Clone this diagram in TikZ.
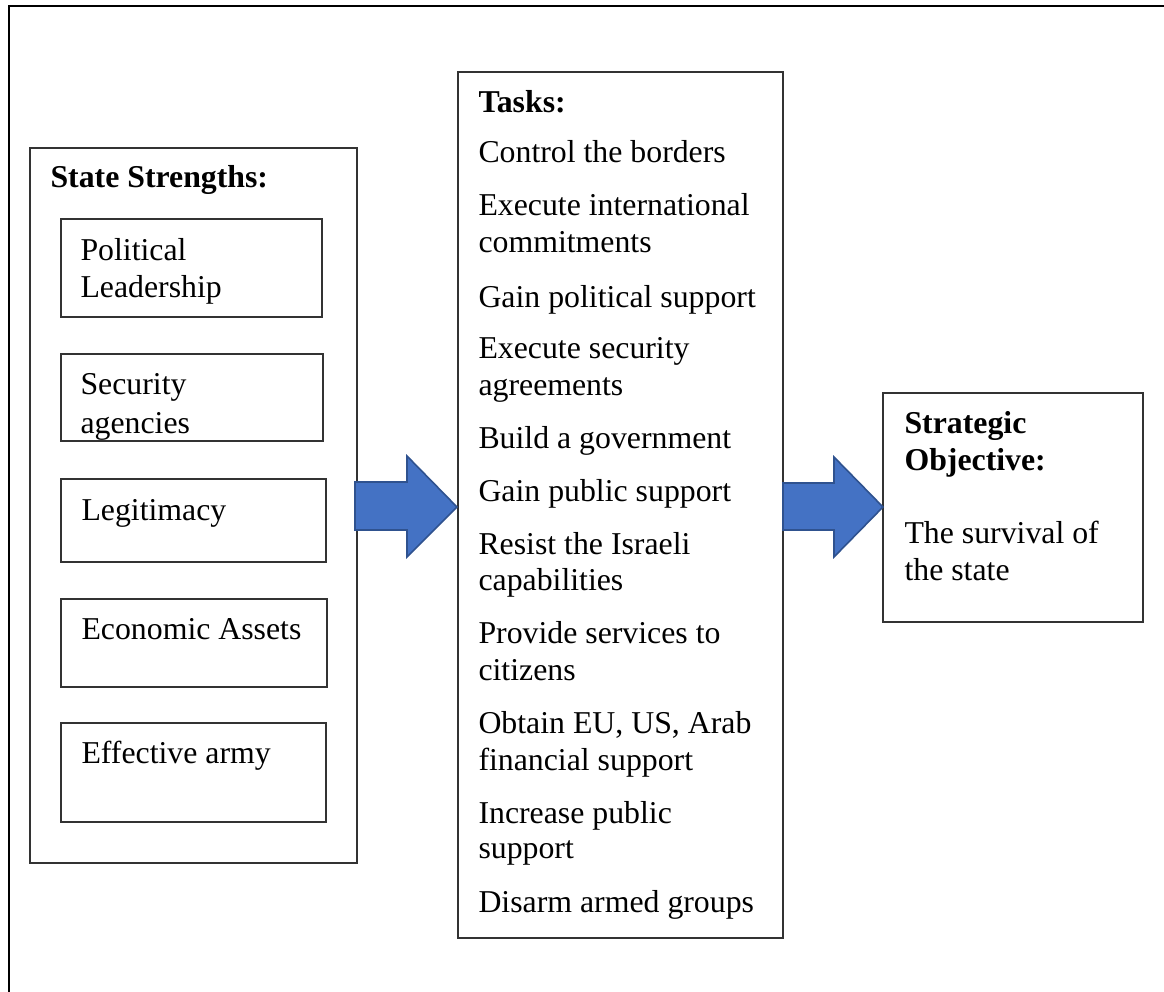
\documentclass[tikz,border=0pt]{standalone}
\usepackage{fontspec}
\setmainfont{Liberation Serif}
\definecolor{arrowblue}{HTML}{4472C4}
\definecolor{arrowedge}{HTML}{2F528F}
\newcommand\mybox[5]{\node[box, minimum width={(#4-#2)*0.3774pt}, minimum height={(#5-#3)*0.3774pt}] (#1) at (#2,#3) {};}
\begin{document}
\begin{tikzpicture}[x=0.3774pt,y=-0.3774pt,
  box/.style={draw=black!80, line width=0.45pt, inner sep=0pt, outer sep=0pt, anchor=north west},
  txt/.style={anchor=base west, inner sep=0pt, font=\fontsize{12}{14}\selectfont},
  btxt/.style={anchor=base west, inner sep=0pt, font=\fontsize{12}{14}\selectfont\bfseries},
  blockarrow/.style={fill=arrowblue, draw=arrowedge, line width=0.6pt, line join=miter}]
\useasboundingbox (0,0) rectangle (1164,992);
% outer frame
\coordinate (fbl) at (9,992);
\coordinate (ftl) at (9,6);
\coordinate (ftr) at (1164,6);
\draw[line width=1.1pt] (fbl) -- (ftl) -- (ftr);
% boxes
\mybox{strengths}{30}{148}{357}{863}
\mybox{pol}{61}{219}{322}{317}
\mybox{sec}{61}{354}{323}{441}
\mybox{leg}{61}{479}{326}{562}
\mybox{eco}{61}{599}{327}{687}
\mybox{eff}{61}{723}{326}{822}
\mybox{tasks}{458}{72}{783}{938}
\mybox{obj}{883}{393}{1143}{622}
% left texts
\node[btxt] (sh) at (50,187) {State Strengths:};
\node[txt] (p1) at (80,260) {Political};
\node[txt] (p2) at (80,297) {Leadership};
\node[txt] (s1) at (80,394) {Security};
\begin{scope}
\clip (61,354) rectangle (323,440);
\node[txt] (s2) at (80,433) {agencies};
\end{scope}
\node[txt] (l1) at (81,520) {Legitimacy};
\node[txt] (e1) at (81,639) {Economic Assets};
\node[txt] (f1) at (81,763) {Effective army};
% tasks
\node[btxt] (th) at (478,112) {Tasks:};
\node[txt] (t1) at (478,162) {Control the borders};
\node[txt] (t2a) at (478,215) {Execute international};
\node[txt] (t2b) at (478,252) {commitments};
\node[txt] (t3) at (478,307) {Gain political support};
\node[txt] (t4a) at (478,358) {Execute security};
\node[txt] (t4b) at (478,395) {agreements};
\node[txt] (t5) at (478,448) {Build a government};
\node[txt] (t6) at (478,501) {Gain public support};
\node[txt] (t7a) at (478,554) {Resist the Israeli};
\node[txt] (t7b) at (478,590) {capabilities};
\node[txt] (t8a) at (478,643) {Provide services to};
\node[txt] (t8b) at (478,680) {citizens};
\node[txt] (t9a) at (478,733) {Obtain EU, US, Arab};
\node[txt] (t9b) at (478,770) {financial support};
\node[txt] (t10a) at (478,823) {Increase public};
\node[txt] (t10b) at (478,858) {support};
\node[txt] (t11) at (478,912) {Disarm armed groups};
% objective
\node[btxt] (o1) at (904,433) {Strategic};
\node[btxt] (o2) at (904,470) {Objective:};
\node[txt] (o3) at (904,543) {The survival of};
\node[txt] (o4) at (904,580) {the state};
% block arrows
\draw[blockarrow] (355,482) -- (407,482) -- (407,456) -- (457,507) -- (407,557) -- (407,530) -- (355,530) -- cycle;
\draw[blockarrow] (783,483) -- (834,483) -- (834,457) -- (883,507) -- (834,557) -- (834,530) -- (783,530) -- cycle;
\end{tikzpicture}
\end{document}
